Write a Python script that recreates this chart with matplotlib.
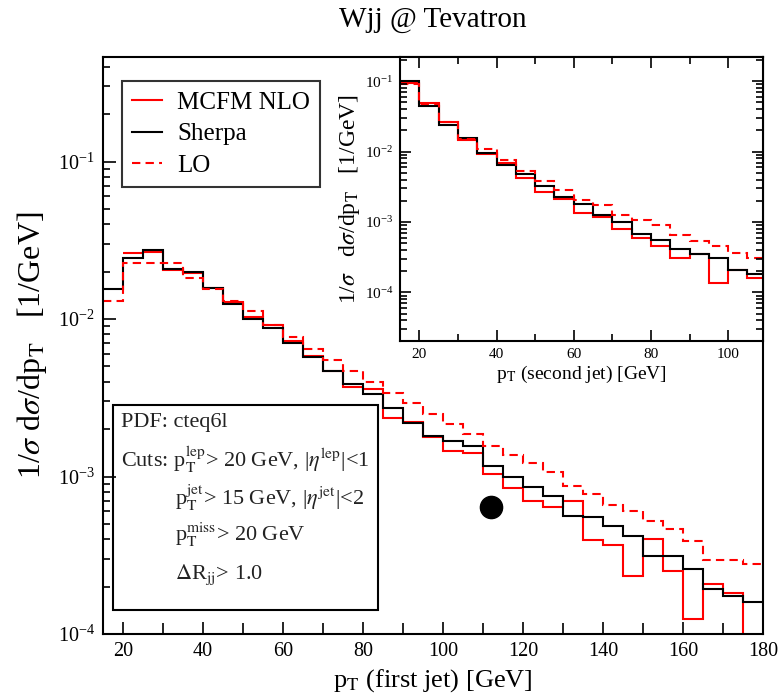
import numpy as np
import matplotlib
matplotlib.use("Agg")
import matplotlib.pyplot as plt
from matplotlib.patches import Rectangle
from matplotlib.ticker import LogLocator, MultipleLocator, LogFormatterSciNotation

plt.rcParams['font.family'] = ['Liberation Serif', 'DejaVu Serif']
plt.rcParams['mathtext.fontset'] = 'stix'

# main plot: pT of first jet, 5 GeV bins from 15 to 180
edges1 = np.arange(15, 185, 5)
sherpa1 = [0.0154, 0.0245, 0.0274, 0.0208, 0.0198, 0.0158, 0.0125, 0.0100, 0.00879, 0.00709,
           0.00571, 0.00466, 0.00386, 0.00336, 0.00272, 0.00220, 0.00180, 0.00167, 0.00156, 0.00117,
           0.00100, 0.000860, 0.000757, 0.000560, 0.000550, 0.000483, 0.000418, 0.000312, 0.000312,
           0.000259, 0.000194, 0.000174, 0.000159]
# MCFM NLO starts at 20 GeV
edges1_nlo = np.arange(20, 185, 5)
nlo1 = [0.0261, 0.0265, 0.0206, 0.0196, 0.0158, 0.0128, 0.0103, 0.0091, 0.0072,
        0.0058, 0.0047, 0.00371, 0.00360, 0.00234, 0.00221, 0.00179, 0.00145, 0.00141, 0.00103,
        0.000848, 0.000697, 0.000638, 0.000697, 0.000398, 0.000365, 0.000233, 0.000402, 0.000251,
        0.000124, 0.000209, 0.000181, 0.00005]
lo1 = [0.0131, 0.0227, 0.0227, 0.0227, 0.0183, 0.0156, 0.0130, 0.0112, 0.0092, 0.00771,
       0.00647, 0.00546, 0.00467, 0.00397, 0.00339, 0.00294, 0.00249, 0.00214, 0.00185, 0.00157,
       0.00136, 0.00121, 0.00107, 0.000867, 0.000776, 0.000664, 0.000602, 0.000520, 0.000461,
       0.000388, 0.000297, 0.000297, 0.000279]

# inset: pT of second jet, 5 GeV bins from 15 to 110
edges2 = np.arange(15, 115, 5)
sherpa2 = [0.100, 0.0441, 0.0242, 0.0156, 0.00957, 0.00653, 0.00481, 0.00328, 0.00227, 0.00182,
           0.00124, 0.000987, 0.000682, 0.000547, 0.000413, 0.000354, 0.000307, 0.000209, 0.000184]
nlo2 = [0.093, 0.0492, 0.0267, 0.0148, 0.0094, 0.0068, 0.00422, 0.00264, 0.00212, 0.00134,
        0.00116, 0.000794, 0.000592, 0.000450, 0.000307, 0.000354, 0.000136, 0.000209, 0.000160]
lo2 = [0.092, 0.0480, 0.0262, 0.0152, 0.0109, 0.00769, 0.00525, 0.00386, 0.00288, 0.00207,
       0.00172, 0.00127, 0.00108, 0.000895, 0.000659, 0.000530, 0.000450, 0.000362, 0.000307]

labels = ['MCFM NLO', 'Sherpa', 'LO']
blob = (112.1, 6.4e-4)

dash = (0, (4, 2.5))
fig = plt.figure(figsize=(7.8, 6.97), dpi=100)
ax = fig.add_axes([0.132, 0.0904, 0.846, 0.8276])

ax.stairs(nlo1, edges1_nlo, color='red', lw=1.5, baseline=None, label=labels[0])
ax.stairs(sherpa1, edges1, color='black', lw=1.5, baseline=None, label=labels[1])
ax.stairs(lo1, edges1, color='red', lw=1.5, ls=dash, baseline=None, label=labels[2])
ax.plot(*blob, 'o', color='black', ms=16)

ax.set_yscale('log')
ax.set_xlim(15, 180)
ax.set_ylim(1e-4, 0.46)
ax.xaxis.set_major_locator(MultipleLocator(20))
ax.xaxis.set_minor_locator(MultipleLocator(10))
ax.yaxis.set_major_locator(LogLocator(base=10))
ax.yaxis.set_minor_locator(LogLocator(base=10, subs=np.arange(2, 10)))
ax.yaxis.set_major_formatter(LogFormatterSciNotation())
ax.tick_params(which='both', direction='in', labelsize=14.5, width=1.2)
ax.tick_params(which='major', length=9, pad=6)
ax.tick_params(which='minor', length=5)
ax.tick_params(axis='x', which='minor', length=8)
for s in ax.spines.values():
    s.set_linewidth(1.5)

ax.set_xlabel(r'p$_{\rm T}$ (first jet) [GeV]', fontsize=19, labelpad=4)
ax.set_ylabel(r'1/$\sigma$ d$\sigma$/dp$_{\rm T}$   [1/GeV]', fontsize=23, labelpad=6)
fig.text(0.555, 0.971, 'Wjj @ Tevatron', fontsize=21, ha='center', va='center')

leg = ax.legend(loc='upper left', bbox_to_anchor=(0.029, 0.958), fontsize=18,
                frameon=True, fancybox=False, edgecolor='black', handlelength=1.2,
                handletextpad=0.6, borderpad=0.4, labelspacing=0.36, borderaxespad=0)
leg.get_frame().set_linewidth(1.5)

# cuts box
ax.add_patch(Rectangle((0.0145, 0.0416), 0.403, 0.355, transform=ax.transAxes,
                       fill=False, ec='black', lw=1.5, zorder=3))
cuts = [
    (0.028, 0.367, 'PDF: cteq6l'),
    (0.028, 0.302, r'Cuts: p$_{\rm T}^{\rm lep}$> 20 GeV, |$\eta^{\rm lep}$|<1'),
    (0.109, 0.237, r'p$_{\rm T}^{\rm jet}$> 15 GeV, |$\eta^{\rm jet}$|<2'),
    (0.109, 0.172, r'p$_{\rm T}^{\rm miss}$> 20 GeV'),
    (0.109, 0.102, r'$\Delta$R$_{\rm jj}$> 1.0'),
]
for x, y, t in cuts:
    ax.text(x, y, t, transform=ax.transAxes, fontsize=16, va='center', ha='left', color='#222222')

# inset
ins = fig.add_axes([0.513, 0.511, 0.465, 0.407])
ins.stairs(nlo2, edges2, color='red', lw=1.5, baseline=None)
ins.stairs(sherpa2, edges2, color='black', lw=1.5, baseline=None)
ins.stairs(lo2, edges2, color='red', lw=1.5, ls=dash, baseline=None)
ins.set_yscale('log')
ins.set_xlim(15, 109)
ins.set_ylim(2.05e-5, 0.22)
ins.xaxis.set_major_locator(MultipleLocator(20))
ins.xaxis.set_minor_locator(MultipleLocator(10))
ins.yaxis.set_major_locator(LogLocator(base=10))
ins.yaxis.set_minor_locator(LogLocator(base=10, subs=np.arange(2, 10)))
ins.yaxis.set_major_formatter(LogFormatterSciNotation())
ins.tick_params(which='both', direction='in', top=True, right=True, labelsize=11, width=1.2)
ins.tick_params(which='major', length=8, pad=5)
ins.tick_params(which='minor', length=5)
for s in ins.spines.values():
    s.set_linewidth(1.5)
ins.set_xlabel(r'p$_{\rm T}$ (second jet) [GeV]', fontsize=14, labelpad=2)
ins.set_ylabel(r'1/$\sigma$   d$\sigma$/dp$_{\rm T}$   [1/GeV]', fontsize=17, labelpad=2)

fig.savefig('out.png', dpi=100)
